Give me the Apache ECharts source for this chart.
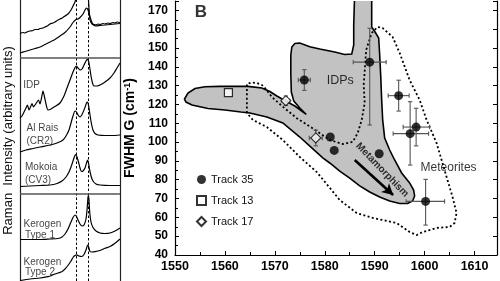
<!DOCTYPE html>
<html><head><meta charset="utf-8">
<script src="https://cdn.jsdelivr.net/npm/echarts@6/dist/echarts.min.js"></script>
<style>html,body{margin:0;padding:0;background:#fff}#c{width:500px;height:281px}</style>
</head><body><div id="c"></div>
<script>
// ---------- Panel B data ----------
const xTicks = [1550, 1560, 1570, 1580, 1590, 1600, 1610];
const yTicks = [40, 50, 60, 70, 80, 90, 100, 110, 120, 130, 140, 150, 160, 170];
const track35 = [[1575.9,133.0],[1581.1,102.7],[1581.9,95.6],[1589.0,142.5],[1594.8,124.7],[1598.3,108.0],[1597.1,104.5],[1590.9,93.8],[1600.2,68.5]];
// [x-, x+, y-, y+]
const track35Err = [[1.2,1.2,5.5,5.5],[0,0,0,0],[0,0,0,0],[3.3,3.3,33.4,18],[2.1,2.1,8.2,8.2],[2.6,2.7,10,10],[3.4,3.7,16.7,17],[0,0,0,0],[3.9,3.8,12.6,11.7]];
const track13 = [[1560.7,126.3]];
const track17 = [[1572.2,122.0],[1578.2,102.2]];
const track17Err = [[0.8,0.8,2.5,2.5],[1.3,1.3,4.2,4.2]];
const idpRegion = [[1551.9,122.9],[1552.6,126.1],[1554.0,128.5],[1556.0,129.4],[1559.0,129.6],[1564.6,129.6],[1567.4,128.8],[1569.0,126.9],[1570.4,124.5],[1572.0,122.1],[1574.0,119.2],[1576.3,114.7],[1575.0,118.1],[1573.8,121.8],[1573.3,126.6],[1573.2,135.7],[1573.2,146.3],[1573.4,150.5],[1574.0,152.4],[1575.0,152.7],[1577.0,150.7],[1579.0,149.5],[1582.0,147.9],[1584.0,146.6],[1585.4,146.8],[1585.8,151.6],[1585.8,162.2],[1585.9,171.3],[1586.0,178.7],[1589.4,178.7],[1589.4,170.2],[1589.4,161.2],[1590.2,158.0],[1590.8,155.3],[1591.0,146.3],[1591.2,135.7],[1591.4,122.4],[1591.6,111.8],[1592.0,102.2],[1593.0,95.8],[1594.0,90.5],[1595.4,83.6],[1597.0,78.3],[1597.8,74.5],[1598.0,71.4],[1597.6,68.7],[1596.6,67.4],[1595.0,67.4],[1593.0,68.7],[1591.0,70.8],[1589.0,73.5],[1587.0,76.7],[1585.0,80.9],[1583.0,84.6],[1581.0,88.9],[1579.6,91.6],[1577.4,96.9],[1575.0,102.7],[1571.6,110.2],[1568.4,113.3],[1565.0,115.5],[1563.2,116.0],[1560.0,117.1],[1556.6,117.9],[1553.4,119.7],[1552.2,121.3]];
const meteoriteRegion = [[1564.4,115.5],[1564.4,123.4],[1564.4,130.9],[1565.4,131.7],[1566.4,131.4],[1567.4,130.4],[1568.2,128.2],[1569.4,124.0],[1571.6,118.8],[1574.4,112.7],[1577.6,107.3],[1581.0,101.1],[1583.6,99.0],[1585.6,100.1],[1586.6,104.8],[1587.4,111.8],[1588.0,120.8],[1587.8,130.4],[1588.3,149.0],[1589.4,158.0],[1590.6,161.2],[1591.6,160.6],[1593.6,155.9],[1595.0,147.4],[1597.0,133.0],[1599.0,122.4],[1600.4,111.8],[1602.4,99.5],[1604.4,81.5],[1605.6,70.8],[1606.4,62.3],[1606.0,57.0],[1605.0,54.9],[1602.4,54.4],[1599.6,52.2],[1598.4,50.6],[1597.0,52.2],[1594.4,57.0],[1589.6,59.7],[1586.4,62.3],[1583.0,69.2],[1578.4,84.1],[1575.0,92.1],[1571.6,101.1],[1568.4,108.0],[1565.6,111.8]];
const metamorphismArrow = [[1586.0,90.5],[1593.7,71.9]];
const annotationsB = [
  {name:'B', value:[1555.2,168.9]},
  {name:'IDPs', value:[1583.1,132.5]},
  {name:'Meteorites', value:[1604.8,86.2]},
  {name:'Metamorphism', value:[1591.5,85.2]}
];

// ---------- Left panel (Raman spectra, stacked intensity, arbitrary units) ----------
const specTop = [[0,247.5],[3,248.5],[5,248],[8,249.5],[10,250],[13,250.5],[15,251.5],[18,251.5],[20,252.5],[23,253],[25,254],[28,255.5],[30,257],[33,258],[35,259],[38,261],[40,262],[43,263.5],[45,265],[48,267],[51,271],[53,275],[55,279],[56,283],[60,288],[65,288],[68,284],[69,273],[70,261],[72,257],[74,256.5],[76,256],[78,257],[80,256.5],[83,257.5],[85,257],[88,258],[90,257.5],[93,258.5],[95,258],[97,259],[100,258.5]];
const specSecond = [[0,228],[5,229.5],[10,231],[15,232.5],[20,234],[25,236.5],[30,239],[35,241.5],[40,245],[45,248.5],[50,254],[53,258.5],[56,261.5],[58,262],[60,263.5],[63,267],[65,271],[66.5,273],[68,271],[69.5,266],[71,261],[73,256.5],[76,255],[80,255.5],[85,256],[90,256.5],[95,257],[100,257.5]];
const specIDP = [[0,163],[2,165],[4,169],[6,173],[7.5,176],[9,171],[10.5,174],[12,177.5],[13.5,174],[15,176],[17,179],[18.5,181],[20,177],[21.5,183],[23,190],[24.5,184],[26,177],[28,171],[31,172],[35,174.5],[40,178],[44,185],[47,193],[50,201],[53,209],[55,213.5],[56.5,215],[58,213],[60,211],[62,212],[64,216],[66,220],[67.5,222],[68.5,220],[69.5,215],[71,205],[72.5,198],[74,195],[77,195],[81,196.5],[85,199],[90,203],[94,208],[97,213],[100,218]];
const specAlRais = [[0,129],[6,131],[13,132.5],[20,134],[30,136],[37,138],[43,141],[46,145],[49,151],[51,158],[53,165],[55,170],[56.5,169],[58,166],[60,164],[62,166.5],[64,171],[65.5,175],[67,179],[68,178],[69,173],[70,166],[71.5,157],[73,151],[75,147.5],[78,146],[85,145.5],[92,145.5],[100,146]];
const specMokoia = [[0,94.5],[10,95],[20,95.5],[30,96],[37,97.5],[42,100],[46,104],[49,109],[51,114],[53,120],[54.5,124.5],[55.8,126.5],[57,124],[58.5,119],[60,113],[61.5,109.5],[63,110],[65,113],[66.5,118],[67.5,121],[68.5,118],[69.5,112],[71,105],[73,100],[76,97],[80,96],[90,95.5],[100,95.5]];
const specKerogen1 = [[0,41.5],[10,41.5],[20,41.5],[30,42],[38,42.5],[42,44],[45,47],[48,52],[51,59],[53,63.5],[55,66],[56.5,64.5],[58,61],[60,57],[62,55],[64,56],[66,62],[67.2,73],[68,84],[68.5,85.5],[69,81],[69.7,69],[71,59],[73,53.5],[76,50],[80,48],[85,47.5],[90,48],[95,50],[100,53]];
const specKerogen2 = [[0,0.5],[10,2],[20,3],[28,4.3],[35,7],[41.7,9.3],[45,12],[48.3,16],[51,20],[53.3,24],[55,25.5],[56.7,26.2],[59,25],[61.7,24.5],[64,26.5],[66,31],[67.7,36],[68.7,34],[70,29.5],[72,29],[75,29.3],[80,30.5],[85,32.7],[90,34.5],[95,37.7],[100,42]];
const bandPositions = [56, 68];      // D and G band guides
const panelSeparators = [223.3, 87.3];
const spectraLabels = [
  {name:'IDP', value:[3.3,196]},
  {name:'Al Rais', value:[6.5,153]},
  {name:'(CR2)', value:[6.5,140]},
  {name:'Mokoia', value:[5,114]},
  {name:'(CV3)', value:[5,101]},
  {name:'Kerogen', value:[3.5,57]},
  {name:'Type 1', value:[5,46]},
  {name:'Kerogen', value:[3.5,19]},
  {name:'Type 2', value:[5,9]}
];

const FONT = 'Liberation Sans, Arial, sans-serif';
const chart = echarts.init(document.getElementById('c'), null, {renderer:'canvas'});

function errItems(pts, errs){ return pts.map((p,i)=>[p[0],p[1],errs[i][0],errs[i][1],errs[i][2],errs[i][3]]); }
const errData = errItems(track35, track35Err).concat(errItems(track17, track17Err));

const spectra = [specTop, specSecond, specIDP, specAlRais, specMokoia, specKerogen1, specKerogen2];

const option = {
  animation:false,
  backgroundColor:'#fff',
  textStyle:{fontFamily:FONT},
  grid:[
    {left:20, top:0, width:100, height:281},
    {left:175, top:1, right:3, bottom:26}
  ],
  xAxis:[
    {gridIndex:0, type:'value', min:0, max:100, show:false},
    {gridIndex:1, type:'value', min:xTicks[0], max:1614.5, interval:10,
     axisLine:{lineStyle:{color:'#000', width:1.2}},
     axisTick:{inside:true, length:4, lineStyle:{color:'#000'}},
     minorTick:{show:true, splitNumber:2, length:3, lineStyle:{color:'#000'}},
     axisLabel:{color:'#000', fontWeight:'bold', fontSize:12.5, margin:5, fontFamily:FONT, formatter:v=>String(v)},
     splitLine:{show:false}}
  ],
  yAxis:[
    {gridIndex:0, type:'value', min:0, max:281, position:'left',
     axisLine:{show:true, lineStyle:{color:'#222', width:1.2}}, axisTick:{show:false}, axisLabel:{show:false}, splitLine:{show:false},
     name:'Raman  Intensity (arbitrary units)', nameLocation:'middle', nameGap:5,
     nameTextStyle:{fontSize:13, color:'#111', fontFamily:FONT}},
    {gridIndex:0, type:'value', min:0, max:281, position:'right',
     axisLine:{show:true, onZero:false, lineStyle:{color:'#222', width:1.2}}, axisTick:{show:false}, axisLabel:{show:false}, splitLine:{show:false}},
    {gridIndex:1, type:'value', min:yTicks[0], max:175, interval:10, position:'left',
     axisLine:{show:true, lineStyle:{color:'#000', width:1.2}},
     axisTick:{inside:true, length:4, lineStyle:{color:'#000'}},
     minorTick:{show:true, splitNumber:2, length:3, lineStyle:{color:'#000'}},
     axisLabel:{color:'#000', fontWeight:'bold', fontSize:12, margin:7, fontFamily:FONT, formatter:v=>String(v)},
     splitLine:{show:false},
     name:'FWHM G (cm{s|-1})', nameLocation:'middle', nameGap:28,
     nameTextStyle:{fontSize:14, fontWeight:'bold', color:'#000', fontFamily:FONT,
       rich:{s:{fontSize:9, fontWeight:'bold', verticalAlign:'top', fontFamily:FONT}}}},
    {gridIndex:1, type:'value', min:yTicks[0], max:175, interval:10, position:'right',
     axisLine:{show:true, lineStyle:{color:'#000', width:1.2}},
     axisTick:{inside:true, length:4, lineStyle:{color:'#000'}},
     axisLabel:{show:false}, splitLine:{show:false}}
  ],
  legend:{
    data:[{name:'Track 35', icon:'circle'},{name:'Track 13', icon:'rect'},{name:'Track 17', icon:'diamond'}],
    orient:'vertical', left:191, top:169, itemWidth:9, itemHeight:9, itemGap:10,
    textStyle:{fontSize:11, color:'#111', fontFamily:FONT}, selectedMode:false
  },
  series:[
    {type:'custom', name:'IDP region', xAxisIndex:1, yAxisIndex:2, clip:true, z:1, silent:true,
     data:[[idpRegion[0][0], idpRegion[0][1]]],
     renderItem:(params, api)=>({type:'polygon', shape:{points:idpRegion.map(p=>api.coord(p))},
       style:{fill:'#c2c2c2', stroke:'#000', lineWidth:1.6}})},
    {type:'custom', name:'Meteorite region', xAxisIndex:1, yAxisIndex:2, clip:true, z:2, silent:true,
     data:[[meteoriteRegion[0][0], meteoriteRegion[0][1]]],
     renderItem:(params, api)=>({type:'polygon', shape:{points:meteoriteRegion.map(p=>api.coord(p))},
       style:{fill:null, stroke:'#000', lineWidth:1.8, lineDash:[2,2.4]}})},
    {type:'custom', name:'errors', xAxisIndex:1, yAxisIndex:2, z:3, silent:true,
     data:errData,
     renderItem:(params, api)=>{
       const x=api.value(0), y=api.value(1);
       const exm=api.value(2), exp=api.value(3), eym=api.value(4), eyp=api.value(5);
       const st={stroke:'#555', lineWidth:1.1};
       const ch=[]; const cap=2.2;
       if(exm>0||exp>0){
         const a=api.coord([x-exm,y]), b=api.coord([x+exp,y]);
         ch.push({type:'line', shape:{x1:a[0],y1:a[1],x2:b[0],y2:b[1]}, style:st});
         ch.push({type:'line', shape:{x1:a[0],y1:a[1]-cap,x2:a[0],y2:a[1]+cap}, style:st});
         ch.push({type:'line', shape:{x1:b[0],y1:b[1]-cap,x2:b[0],y2:b[1]+cap}, style:st});
       }
       if(eym>0||eyp>0){
         const a=api.coord([x,y-eym]), b=api.coord([x,y+eyp]);
         ch.push({type:'line', shape:{x1:a[0],y1:a[1],x2:b[0],y2:b[1]}, style:st});
         ch.push({type:'line', shape:{x1:a[0]-cap,y1:a[1],x2:a[0]+cap,y2:a[1]}, style:st});
         ch.push({type:'line', shape:{x1:b[0]-cap,y1:b[1],x2:b[0]+cap,y2:b[1]}, style:st});
       }
       return {type:'group', children:ch};
     }},
    {type:'scatter', name:'Track 35', xAxisIndex:1, yAxisIndex:2, z:4, data:track35, symbol:'circle', symbolSize:9,
     itemStyle:{color:'#000'}},
    {type:'scatter', name:'Track 13', xAxisIndex:1, yAxisIndex:2, z:4, data:track13, symbol:'rect', symbolSize:8,
     itemStyle:{color:'#fff', borderColor:'#000', borderWidth:1.2}},
    {type:'scatter', name:'Track 17', xAxisIndex:1, yAxisIndex:2, z:4, data:track17, symbol:'diamond', symbolSize:10,
     itemStyle:{color:'#fff', borderColor:'#000', borderWidth:1.1}},
    {type:'scatter', name:'annB', xAxisIndex:1, yAxisIndex:2, z:5, symbolSize:0, silent:true,
     data:annotationsB.map(a=>{
       const d={name:a.name, value:a.value};
       if(a.name==='B') d.label={fontSize:17, fontWeight:'bold'};
       if(a.name==='IDPs') d.label={fontSize:12.5};
       if(a.name==='Meteorites') d.label={fontSize:12};
       if(a.name==='Metamorphism') d.label={fontSize:10, fontWeight:'bold', rotate:-46};
       return d;
     }),
     label:{show:true, position:'inside', formatter:p=>p.name, color:'#000', fontFamily:FONT},
     markLine:{silent:true, symbol:['none','arrow'], symbolSize:[9,11], label:{show:false},
       lineStyle:{color:'#000', width:2.6, type:'solid'},
       data:[[{coord:metamorphismArrow[0]},{coord:metamorphismArrow[1]}]]}},
    ...spectra.map((s,i)=>({type:'line', name:'spec'+i, xAxisIndex:0, yAxisIndex:0, data:s, symbol:'none',
      smooth:0.25, clip:true, lineStyle:{color:'#000', width:1.2}, z:3, silent:true})),
    {type:'scatter', name:'labelsL', xAxisIndex:0, yAxisIndex:0, symbolSize:0, silent:true, z:5,
     data:spectraLabels,
     label:{show:true, position:'right', distance:0, formatter:p=>p.name, color:'#111', fontSize:10, fontFamily:FONT},
     markLine:{silent:true, symbol:'none', label:{show:false}, animation:false,
       data:[
         ...bandPositions.map(v=>({xAxis:v, lineStyle:{color:'#000', width:1, type:[2.5,2]}})),
         ...panelSeparators.map(v=>({yAxis:v, lineStyle:{color:'#555', width:1.6, type:'solid'}}))
       ]}}
  ]
};
chart.setOption(option);
</script></body></html>
